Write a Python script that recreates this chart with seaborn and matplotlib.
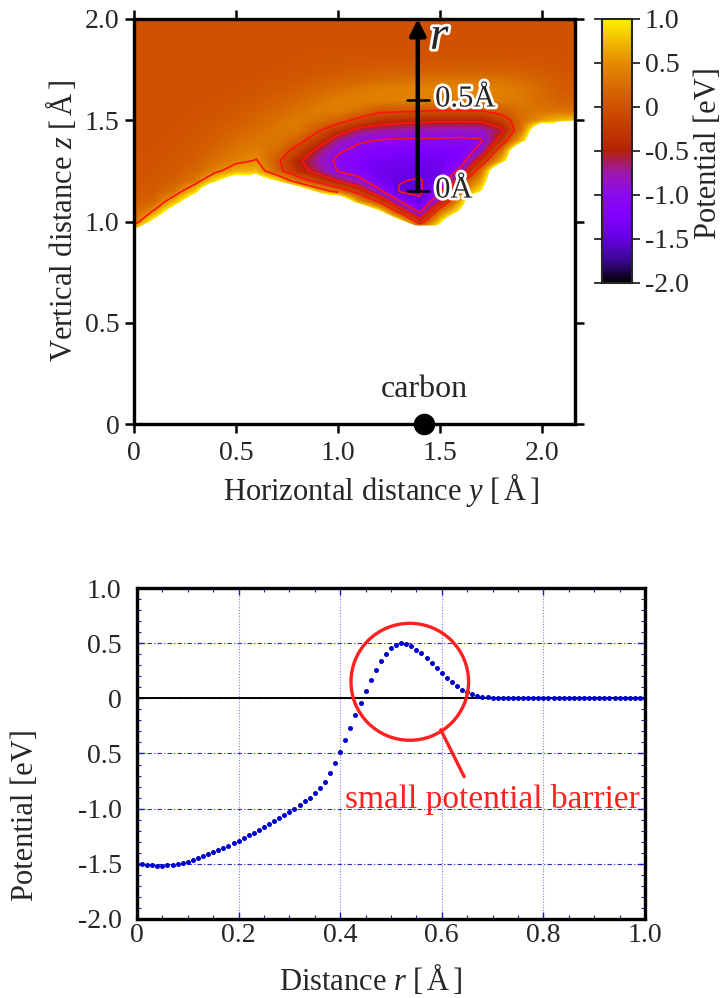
import numpy as np
import matplotlib
matplotlib.use("Agg")
import matplotlib.pyplot as plt
import seaborn as sns
from matplotlib.colors import LinearSegmentedColormap
from matplotlib.patches import Ellipse, Polygon, Rectangle
from matplotlib import patheffects as pe
from matplotlib.ticker import MultipleLocator

# ---------------------------------------------------------------------------
# Potential map V(y, z) in eV on a regular grid
# ---------------------------------------------------------------------------
grid_y = [0.0, 0.1, 0.2, 0.3, 0.4, 0.5, 0.6, 0.7, 0.8, 0.9, 1.0, 1.1,
          1.2, 1.3, 1.4, 1.5, 1.6, 1.7, 1.8, 1.9, 2.0, 2.1, 2.2]
grid_z = [0.90, 0.95, 1.00, 1.05, 1.10, 1.15, 1.20, 1.25, 1.30, 1.35, 1.40, 1.45,
          1.50, 1.55, 1.60, 1.65, 1.70, 1.75, 1.80, 1.85, 1.90, 1.95, 2.00]

# one vertical profile (along grid_z) per horizontal position in grid_y;
# values above 1 eV lie in the repulsive region next to the surface
potential_profiles = [
    [1.5, 1.1, 0.25, 0.12, 0.08, 0.06, 0.05, 0.04, 0.03, 0.02, 0.02, 0.02, 0.02, 0.02, 0.02, 0.02, 0.02, 0.02, 0.02, 0.02, 0.02, 0.02, 0.02],
    [2.0, 2.0, 1.2, 0.55, 0.2, 0.1, 0.07, 0.05, 0.04, 0.03, 0.02, 0.02, 0.02, 0.02, 0.02, 0.02, 0.02, 0.02, 0.02, 0.02, 0.02, 0.02, 0.02],
    [2.0, 2.0, 2.0, 1.4, 0.75, 0.3, 0.15, 0.1, 0.07, 0.05, 0.04, 0.03, 0.02, 0.02, 0.02, 0.02, 0.02, 0.02, 0.02, 0.02, 0.02, 0.02, 0.02],
    [2.0, 2.0, 2.0, 2.0, 1.5, 0.85, 0.35, 0.2, 0.12, 0.09, 0.07, 0.05, 0.04, 0.03, 0.02, 0.02, 0.02, 0.02, 0.02, 0.02, 0.02, 0.02, 0.02],
    [2.0, 2.0, 2.0, 2.0, 2.0, 2.0, 0.95, 0.42, 0.3, 0.2, 0.13, 0.09, 0.06, 0.04, 0.03, 0.02, 0.02, 0.02, 0.02, 0.02, 0.02, 0.02, 0.02],
    [2.0, 2.0, 2.0, 2.0, 2.0, 2.0, 1.5, 0.7, 0.42, 0.33, 0.25, 0.17, 0.11, 0.07, 0.05, 0.03, 0.02, 0.02, 0.02, 0.02, 0.02, 0.02, 0.02],
    [2.0, 2.0, 2.0, 2.0, 2.0, 2.0, 1.5, 0.75, 0.52, 0.4, 0.33, 0.26, 0.19, 0.13, 0.08, 0.05, 0.03, 0.02, 0.02, 0.02, 0.02, 0.02, 0.02],
    [2.0, 2.0, 2.0, 2.0, 2.0, 2.0, 1.0, 0.15, 0.08, 0.25, 0.33, 0.33, 0.28, 0.2, 0.13, 0.08, 0.05, 0.03, 0.02, 0.02, 0.02, 0.02, 0.02],
    [2.0, 2.0, 2.0, 2.0, 2.0, 1.6, 0.3, -0.35, -0.42, -0.15, 0.15, 0.35, 0.38, 0.3, 0.2, 0.12, 0.07, 0.04, 0.03, 0.02, 0.02, 0.02, 0.02],
    [2.0, 2.0, 2.0, 2.0, 2.0, 0.8, -0.15, -0.62, -0.75, -0.6, -0.25, 0.05, 0.3, 0.38, 0.3, 0.2, 0.12, 0.06, 0.04, 0.03, 0.02, 0.02, 0.02],
    [2.0, 2.0, 2.0, 2.0, 2.0, 0.3, -0.52, -1.02, -1.08, -0.95, -0.72, -0.3, 0.15, 0.4, 0.4, 0.28, 0.16, 0.08, 0.05, 0.03, 0.02, 0.02, 0.02],
    [2.0, 2.0, 2.0, 2.0, 0.6, -0.2, -0.85, -1.2, -1.22, -1.1, -0.95, -0.62, -0.1, 0.3, 0.43, 0.35, 0.2, 0.1, 0.05, 0.03, 0.02, 0.02, 0.02],
    [2.0, 2.0, 2.0, 1.1, -0.1, -0.9, -1.3, -1.38, -1.34, -1.22, -1.02, -0.72, -0.3, 0.1, 0.42, 0.4, 0.25, 0.12, 0.05, 0.03, 0.02, 0.02, 0.02],
    [2.0, 2.0, 1.2, -0.2, -0.98, -1.52, -1.49, -1.42, -1.35, -1.24, -1.05, -0.76, -0.38, 0.08, 0.43, 0.42, 0.28, 0.13, 0.05, 0.03, 0.02, 0.02, 0.02],
    [2.0, 1.0, -0.3, -1.1, -1.46, -1.54, -1.52, -1.46, -1.38, -1.26, -1.06, -0.78, -0.42, 0.05, 0.42, 0.45, 0.3, 0.12, 0.05, 0.03, 0.02, 0.02, 0.02],
    [2.0, 1.5, 0.9, 0.3, -0.6, -1.15, -1.35, -1.4, -1.36, -1.26, -1.06, -0.8, -0.45, 0.02, 0.4, 0.46, 0.32, 0.14, 0.05, 0.03, 0.02, 0.02, 0.02],
    [2.0, 2.0, 2.0, 1.1, 0.7, 0.35, -0.15, -0.88, -1.2, -1.26, -1.08, -0.82, -0.45, 0.02, 0.38, 0.46, 0.33, 0.15, 0.05, 0.03, 0.02, 0.02, 0.02],
    [2.0, 2.0, 2.0, 2.0, 2.0, 1.0, 0.65, 0.3, -0.3, -0.85, -1.04, -0.8, -0.45, 0.03, 0.38, 0.45, 0.32, 0.15, 0.05, 0.03, 0.02, 0.02, 0.02],
    [2.0, 2.0, 2.0, 2.0, 2.0, 2.0, 2.0, 2.0, 0.75, 0.3, -0.3, -0.58, -0.2, 0.15, 0.38, 0.42, 0.3, 0.14, 0.05, 0.03, 0.02, 0.02, 0.02],
    [2.0, 2.0, 2.0, 2.0, 2.0, 2.0, 2.0, 2.0, 2.0, 2.0, 0.8, 0.35, 0.25, 0.3, 0.35, 0.35, 0.25, 0.12, 0.05, 0.03, 0.02, 0.02, 0.02],
    [2.0, 2.0, 2.0, 2.0, 2.0, 2.0, 2.0, 2.0, 2.0, 2.0, 2.0, 2.0, 0.6, 0.3, 0.25, 0.22, 0.16, 0.09, 0.05, 0.03, 0.02, 0.02, 0.02],
    [2.0, 2.0, 2.0, 2.0, 2.0, 2.0, 2.0, 2.0, 2.0, 2.0, 2.0, 2.0, 0.8, 0.3, 0.15, 0.1, 0.07, 0.05, 0.03, 0.02, 0.02, 0.02, 0.02],
    [2.0, 2.0, 2.0, 2.0, 2.0, 2.0, 2.0, 2.0, 2.0, 2.0, 2.0, 2.0, 0.8, 0.25, 0.12, 0.08, 0.05, 0.04, 0.03, 0.02, 0.02, 0.02, 0.02],
]

# edge of the computed region (below it the map is left blank)
surface_y = [0.0, 0.1, 0.2, 0.3, 0.4, 0.45, 0.58, 0.7, 0.8, 0.9, 1.0, 1.1,
             1.2, 1.3, 1.38, 1.52, 1.6, 1.7, 1.8, 1.9, 2.0, 2.1, 2.2]
surface_z = [0.96, 1.01, 1.07, 1.13, 1.19, 1.215, 1.215, 1.20, 1.175, 1.145, 1.115, 1.09,
             1.055, 1.01, 0.98, 0.98, 1.04, 1.15, 1.26, 1.37, 1.475, 1.495, 1.50]

contour_levels = [-1.5, -1.0, -0.5, 0.0]
carbon_y = 1.42

cbar_ticks = [1.0, 0.5, 0.0, -0.5, -1.0, -1.5, -2.0]
cbar_labels = ["1.0", "0.5", "0", "-0.5", "-1.0", "-1.5", "-2.0"]
map_ticks = [0.0, 0.5, 1.0, 1.5, 2.0]
map_labels = ["0", "0.5", "1.0", "1.5", "2.0"]

# ---------------------------------------------------------------------------
# Potential along the path r (sampled every 0.01 Angstrom)
# ---------------------------------------------------------------------------
distance_r = np.linspace(0.0, 1.0, 101)
potential_r = [
    -1.500, -1.505, -1.510, -1.515, -1.518, -1.518, -1.515, -1.510, -1.502, -1.492,
    -1.480, -1.466, -1.450, -1.433, -1.415, -1.396, -1.376, -1.355, -1.334, -1.312,
    -1.290, -1.267, -1.243, -1.218, -1.193, -1.167, -1.141, -1.114, -1.087, -1.059,
    -1.030, -1.000, -0.968, -0.935, -0.900, -0.862, -0.815, -0.755, -0.680, -0.585,
    -0.482, -0.375, -0.265, -0.152, -0.040, 0.068, 0.168, 0.258, 0.337, 0.403,
    0.453, 0.485, 0.497, 0.490, 0.470, 0.442, 0.408, 0.368, 0.323, 0.277,
    0.230, 0.185, 0.145, 0.110, 0.080, 0.055, 0.036, 0.022, 0.013, 0.008,
    0.005, 0.004, 0.004, 0.003, 0.003, 0.003, 0.003, 0.003, 0.003, 0.003,
    0.003, 0.002, 0.002, 0.002, 0.002, 0.002, 0.002, 0.002, 0.002, 0.002,
    0.002, 0.002, 0.002, 0.002, 0.002, 0.002, 0.002, 0.002, 0.002, 0.002,
    0.002,
]
r_ticks = [0.0, 0.2, 0.4, 0.6, 0.8, 1.0]
r_labels = ["0", "0.2", "0.4", "0.6", "0.8", "1.0"]
v_ticks = [-2.0, -1.5, -1.0, -0.5, 0.0, 0.5, 1.0]
v_labels = ["-2.0", "-1.5", "-1.0", "0.5", "0", "0.5", "1.0"]

# ---------------------------------------------------------------------------
sns.set_style("white")
plt.rcParams["font.family"] = ["Liberation Serif", "DejaVu Serif"]
plt.rcParams["mathtext.fontset"] = "custom"
plt.rcParams["mathtext.rm"] = "Liberation Serif"
plt.rcParams["mathtext.it"] = "Liberation Serif:italic"
plt.rcParams["xtick.bottom"] = True
plt.rcParams["ytick.left"] = True

W, H = 723, 998
fig = plt.figure(figsize=(W / 100, H / 100), dpi=100)


def frac_box(x0, y0, x1, y1):
    return [x0 / W, 1 - y1 / H, (x1 - x0) / W, (y1 - y0) / H]


def draw_frame(axes, lw):
    for s in axes.spines.values():
        s.set_visible(True)
        s.set_linewidth(lw)
        s.set_color("black")
        s.set_zorder(20)
    axes.add_patch(Rectangle((0, 0), 1, 1, transform=axes.transAxes, fill=False,
                             edgecolor="black", lw=lw, zorder=20, clip_on=False))


cmap = LinearSegmentedColormap.from_list("potential", [
    (0.0, "#000000"), (1 / 12, "#3a0890"), (2 / 12, "#6400e0"), (3 / 12, "#8000ff"),
    (4 / 12, "#8c0af0"), (5 / 12, "#9c18b0"), (6 / 12, "#b42008"), (7 / 12, "#c23a00"),
    (8 / 12, "#d05000"), (9 / 12, "#d86c00"), (10 / 12, "#e58a00"), (11 / 12, "#f0b800"),
    (1.0, "#fff200")])
cmap.set_over("white")

# ---------------- potential map ----------------
ax = fig.add_axes(frac_box(134, 19, 575, 424))
V = np.array(potential_profiles).T
dy = grid_y[1] - grid_y[0]
dz = grid_z[1] - grid_z[0]
im = ax.imshow(V, origin="lower", cmap=cmap, vmin=-2.0, vmax=1.0,
               extent=[grid_y[0] - dy / 2, grid_y[-1] + dy / 2,
                       grid_z[0] - dz / 2, grid_z[-1] + dz / 2],
               interpolation="bilinear", interpolation_stage="data",
               aspect="auto", zorder=0)
wells = ax.contour(grid_y, grid_z, V, levels=contour_levels, colors="#ff1212",
                   linewidths=1.2, linestyles="solid", zorder=1)
edge = ax.contour(grid_y, grid_z, V, levels=[0.5], colors="#ff1212",
                  linewidths=1.2, linestyles="solid", zorder=1)

# the map is only shown above the surface
above_y = [-0.1] + list(surface_y) + [2.3, 2.3, -0.1]
above_z = [surface_z[0]] + list(surface_z) + [surface_z[-1], 2.1, 2.1]
region = Polygon(np.column_stack([above_y, above_z]), closed=True,
                 transform=ax.transData)
im.set_clip_path(region)
wells.set_clip_path(region)
# the 0.5 eV line is kept only on the left-hand slope
left_part = Polygon(np.column_stack([[-0.1] + surface_y[:11] + [1.0, -0.1],
                                     [surface_z[0]] + surface_z[:11] + [2.1, 2.1]]),
                    closed=True, transform=ax.transData)
edge.set_clip_path(left_part)

ax.set_xlim(0, 2.16)
ax.set_ylim(0, 2.0)
ax.set_xticks(map_ticks)
ax.set_xticklabels(map_labels)
ax.set_yticks(map_ticks)
ax.set_yticklabels(map_labels)
ax.tick_params(direction="out", length=6.5, width=1.8, top=True, right=True,
               bottom=True, left=True, labelsize=20, color="black")
ax.tick_params(axis="x", pad=6)
ax.tick_params(axis="y", pad=4)
draw_frame(ax, 2.3)

# path r
arrow_y = 1.39
ax.annotate("", xy=(arrow_y, 2.0), xytext=(arrow_y, 1.15),
            arrowprops=dict(arrowstyle="-|>", lw=3.2, color="black",
                            mutation_scale=24, shrinkA=0, shrinkB=0), zorder=4)
for zt in (1.15, 1.60):
    ax.plot([arrow_y - 0.055, arrow_y + 0.055], [zt, zt], color="black", lw=1.8, zorder=4)
halo = [pe.withStroke(linewidth=4, foreground="white")]
ax.text(1.475, 1.605, "0.5Å", fontsize=22, va="center", ha="left",
        path_effects=halo, zorder=4)
ax.text(1.475, 1.155, "0Å", fontsize=22, va="center", ha="left",
        path_effects=halo, zorder=4)
ax.text(1.50, 1.905, "$r$", fontsize=34, va="center", ha="center",
        fontweight="bold", path_effects=halo, zorder=4)

ax.scatter([carbon_y], [0.0], s=210, color="black", clip_on=False, zorder=25)
ax.text(carbon_y, 0.17, "carbon", fontsize=23, ha="center", va="center")

fig.text(381 / W, 1 - 490 / H, "Horizontal distance $y$ [$\\,$Å$\\,$]",
         fontsize=22, ha="center", va="center")
fig.text(62 / W, 1 - 221 / H, "Vertical distance $z$ [$\\,$Å$\\,$]",
         fontsize=22, ha="center", va="center", rotation=90)

# colour bar
cax = fig.add_axes(frac_box(602, 19, 632, 283))
cb = fig.colorbar(im, cax=cax)
cb.set_ticks(cbar_ticks)
cb.set_ticklabels(cbar_labels)
cax.tick_params(axis="y", direction="out", left=True, right=True, length=6,
                width=1.3, labelsize=20, pad=3)
cb.outline.set_linewidth(1.5)
fig.text(708 / W, 1 - 153 / H, "Potential [eV]", fontsize=22,
         ha="center", va="center", rotation=90)

# ---------------- potential along r ----------------
ax2 = fig.add_axes(frac_box(137, 588, 645, 919))
ax2.set_axisbelow(True)
ax2.grid(axis="y", color="#2b2bd9", lw=0.8, linestyle=(0, (4, 2, 1, 2)))
ax2.grid(axis="x", color="#8080f0", lw=0.8, linestyle=(0, (1, 1.5)))
ax2.axhline(0.0, color="black", lw=1.4, zorder=2)
sns.scatterplot(x=distance_r, y=potential_r, ax=ax2, color="#0000cc", s=13,
                linewidth=0, legend=False, zorder=3)

ax2.add_patch(Ellipse((0.537, 0.15), width=0.2315, height=1.06, fill=False,
                      edgecolor="#ff2020", lw=2.4, zorder=4))
ax2.plot([0.598, 0.644], [-0.285, -0.71], color="#ff2020", lw=2.4, zorder=4)
ax2.text(0.409, -0.99, "small potential barrier", color="#ff2020", fontsize=24,
         ha="left", va="baseline", zorder=4)

ax2.set_xlim(0, 1.0)
ax2.set_ylim(-2.0, 1.0)
ax2.set_xticks(r_ticks)
ax2.set_xticklabels(r_labels)
ax2.set_yticks(v_ticks)
ax2.set_yticklabels(v_labels)
ax2.xaxis.set_minor_locator(MultipleLocator(0.05))
ax2.yaxis.set_minor_locator(MultipleLocator(0.1))
ax2.tick_params(which="both", direction="in", top=True, right=True, bottom=True,
                left=True, color="#1a1acc")
ax2.tick_params(which="major", length=5, width=1.0, labelsize=20)
ax2.tick_params(which="minor", length=3, width=0.8)
ax2.tick_params(axis="x", which="major", pad=3)
ax2.tick_params(axis="y", which="major", pad=11)
ax2.set_xlabel("")
ax2.set_ylabel("")
draw_frame(ax2, 2.3)

fig.text(371 / W, 1 - 980 / H, "Distance $r$ [$\\,$Å$\\,$]", fontsize=22,
         ha="center", va="center")
fig.text(26 / W, 1 - 815 / H, "Potential [eV]", fontsize=22,
         ha="center", va="center", rotation=90)

fig.savefig("out.png", dpi=100)
